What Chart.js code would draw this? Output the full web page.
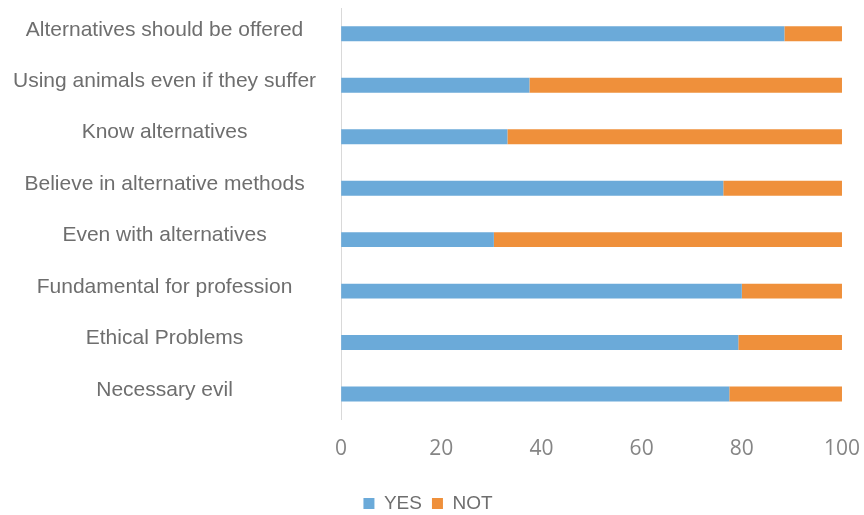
<!DOCTYPE html>
<html>
<head>
<meta charset="utf-8">
<script src="https://cdn.jsdelivr.net/npm/chart.js@4.4.1/dist/chart.umd.min.js"></script>
<style>
    html, body { margin: 0; padding: 0; background: #fff; }
    #wrap { width: 864px; height: 515px; }
</style>
</head>
<body>
<div id="wrap"><canvas id="chart"></canvas></div>
<script>
const categories = [
    'Alternatives should be offered',
    'Using animals even if they suffer',
    'Know alternatives',
    'Believe in alternative methods',
    'Even with alternatives',
    'Fundamental for profession',
    'Ethical Problems',
    'Necessary evil'
];
const yesValues = [88.5, 37.6, 33.2, 76.3, 30.5, 80.0, 79.3, 77.5];
const notValues = [11.5, 62.4, 66.8, 23.7, 69.5, 20.0, 20.7, 22.5];
const xTicks = [0, 20, 40, 60, 80, 100];

const labelColor = '#6e6e6e';

// nudge the legend a little to the left of the canvas centre
const legendShift = {
    id: 'legendShift',
    afterLayout(chart) {
        chart.legend.left -= 4;
        chart.legend.right -= 4;
    }
};

new Chart(document.getElementById('chart').getContext('2d'), {
    type: 'bar',
    data: {
        labels: categories,
        datasets: [
            { label: 'YES', data: yesValues, backgroundColor: '#6baad9', barPercentage: 0.29, categoryPercentage: 1 },
            { label: 'NOT', data: notValues, backgroundColor: '#ef903b', barPercentage: 0.29, categoryPercentage: 1 }
        ]
    },
    plugins: [legendShift],
    options: {
        indexAxis: 'y',
        responsive: true,
        maintainAspectRatio: false,
        animation: false,
        layout: { padding: { top: 8, right: 0, left: 0, bottom: -8 } },
        plugins: {
            tooltip: { enabled: false },
            legend: {
                position: 'bottom',
                labels: {
                    boxWidth: 11,
                    boxHeight: 11,
                    color: labelColor,
                    font: { family: 'Liberation Sans', size: 19 },
                    padding: 10
                }
            }
        },
        scales: {
            x: {
                stacked: true,
                min: 0,
                max: 100,
                afterBuildTicks: axis => { axis.ticks = xTicks.map(v => ({ value: v })); },
                // leave a gap between the tick labels and the legend,
                // and let the last tick label run closer to the edge
                afterFit: axis => {
                    axis.height += 13;
                    axis.paddingRight -= 5;
                },
                grid: { display: false },
                border: { display: false },
                ticks: {
                    color: '#858585',
                    padding: 9,
                    font: { family: 'Open Sans', size: 21 }
                }
            },
            y: {
                stacked: true,
                // keep the plot area flush with the top padding
                afterFit: axis => {
                    axis.paddingTop = 0;
                    axis.paddingBottom = 0;
                    axis.width -= 4;
                },
                grid: { display: false },
                border: { display: true, color: '#d9d9d9', width: 1 },
                ticks: {
                    color: labelColor,
                    crossAlign: 'center',
                    labelOffset: -4,
                    padding: 17,
                    font: { family: 'Liberation Sans', size: 21 }
                }
            }
        }
    }
});
</script>
</body>
</html>
